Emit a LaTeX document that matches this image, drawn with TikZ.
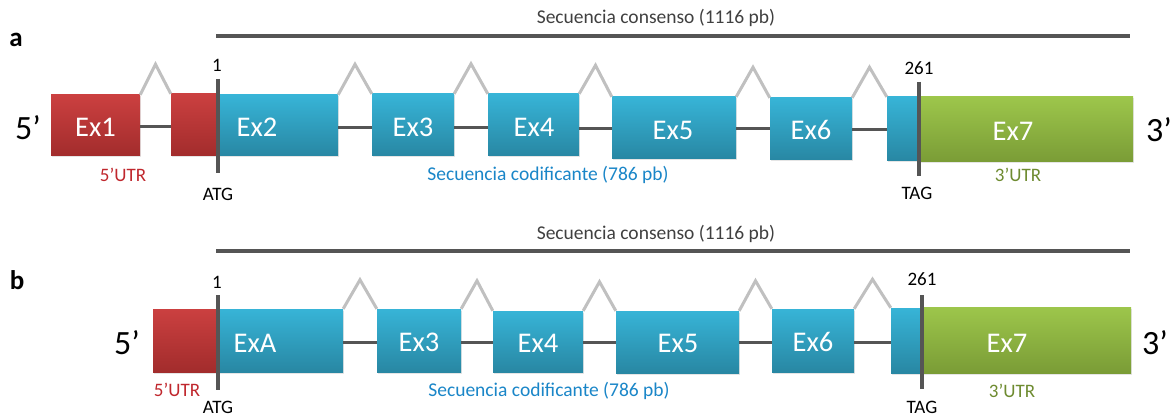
\documentclass[tikz,border=0pt]{standalone}
\usepackage{fontspec}
\setmainfont{Carlito}
\usetikzlibrary{calc,shadows}
\definecolor{redT}{HTML}{CB4040}
\definecolor{redB}{HTML}{A22C2C}
\definecolor{bluT}{HTML}{37B4D7}
\definecolor{bluB}{HTML}{2887A3}
\definecolor{grnT}{HTML}{9DC64B}
\definecolor{grnB}{HTML}{7A9C36}
\definecolor{utrred}{HTML}{C0272D}
\definecolor{codblue}{HTML}{1A86C8}
\definecolor{utrgreen}{HTML}{6E8B30}
\definecolor{darkline}{HTML}{555555}
\definecolor{lightline}{HTML}{C0C0C0}
\definecolor{txtgray}{HTML}{404040}
\tikzset{
  box/.style={inner sep=0pt, draw=none, drop shadow={shadow xshift=1pt, shadow yshift=-1.5pt, opacity=0.2}},
  redbox/.style={box, top color=redT, bottom color=redB},
  bluebox/.style={box, top color=bluT, bottom color=bluB},
  greenbox/.style={box, top color=grnT, bottom color=grnB},
  extext/.style={text=white, font=\fontsize{28.5}{32}\selectfont, inner sep=0pt},
  intron/.style={darkline, line width=3pt},
  splice/.style={lightline, line width=3pt},
  marker/.style={darkline, line width=4pt},
  consensus/.style={darkline, line width=4pt},
  smalltxt/.style={font=\fontsize{19}{22}\selectfont, inner sep=0pt},
  midtxt/.style={font=\fontsize{19.5}{23}\selectfont, inner sep=0pt},
  endtxt/.style={font=\fontsize{34}{38}\selectfont, inner sep=0pt},
  paneltxt/.style={font=\bfseries\fontsize{27}{30}\selectfont, inner sep=0pt},
}
\begin{document}
\begin{tikzpicture}[x=1pt,y=-1pt]
\useasboundingbox[fill=white] (0,0) rectangle (1171,417);

% ================= panel a =================
\node[paneltxt] (pa) at (16,40) {a};
\coordinate (ca1) at (216,36);
\coordinate (ca2) at (1130,36);
\draw[consensus] (ca1) -- (ca2);
\node[midtxt, text=txtgray] (tca) at (656,18) {Secuencia consenso (1116 pb)};

\node[redbox, minimum width=89pt, minimum height=61pt] (a1) at (95.5,125.5) {};
\node[redbox, minimum width=46pt, minimum height=62pt] (a2r) at (194,125) {};
\node[bluebox, minimum width=121pt, minimum height=61pt] (a2) at (277.5,125.5) {};
\node[bluebox, minimum width=82pt, minimum height=62pt] (a3) at (413,125) {};
\node[bluebox, minimum width=91pt, minimum height=62pt] (a4) at (533.5,125) {};
\node[bluebox, minimum width=124pt, minimum height=62pt] (a5) at (674,128) {};
\node[bluebox, minimum width=82pt, minimum height=62pt] (a6) at (811,129) {};
\node[bluebox, minimum width=33pt, minimum height=64pt] (a7b) at (903.5,129) {};
\node[greenbox, minimum width=213pt, minimum height=65pt] (a7) at (1026.5,129.5) {};

\node[extext] (ta1) at (95.5,127) {Ex1};
\node[extext] (ta2) at (257,127) {Ex2};
\node[extext] (ta3) at (413,127) {Ex3};
\node[extext] (ta4) at (534,127) {Ex4};
\node[extext] (ta5) at (673,130) {Ex5};
\node[extext] (ta6) at (811,130) {Ex6};
\node[extext] (ta7) at (1013,131) {Ex7};

\draw[intron] ($(a1.east)+(0,1.5)$) -- ($(a1.east -| a2r.west)+(0,1.5)$);
\draw[intron] ($(a2.east)+(0,2)$) -- ($(a2.east -| a3.west)+(0,2)$);
\draw[intron] ($(a3.east)+(0,3)$) -- ($(a3.east -| a4.west)+(0,3)$);
\draw[intron] ($(a4.east)+(0,4)$) -- ($(a4.east -| a5.west)+(0,4)$);
\draw[intron] ($(a5.east)+(0,1)$) -- ($(a5.east -| a6.west)+(0,1)$);
\draw[intron] ($(a6.east)+(0,1)$) -- ($(a6.east -| a7b.west)+(0,1)$);

\foreach \l/\r in {a1/a2r, a2/a3, a3/a4, a4/a5, a5/a6, a6/a7b}{
  \draw[splice, line join=miter] (\l.north east) -- ($(\l.north east)!0.5!(\r.north west)+(0,-30)$) -- (\r.north west);
}

\coordinate (atga1) at (218,79);
\coordinate (atga2) at (218,173);
\draw[marker] (atga1) -- (atga2);
\coordinate (taga1) at (919,82);
\coordinate (taga2) at (919,176);
\draw[marker] (taga1) -- (taga2);

\node[smalltxt] (na1) at (217,65) {1};
\node[smalltxt] (natg) at (218,194) {ATG};
\node[smalltxt] (na261) at (919,68) {261};
\node[smalltxt] (natag) at (917,193) {TAG};
\node[smalltxt, text=utrred] (nau5) at (123,175) {5’UTR};
\node[smalltxt, text=utrgreen] (nau3) at (1018,175) {3’UTR};
\node[midtxt, text=codblue] (nacod) at (548,175) {Secuencia codificante (786 pb)};
\node[endtxt] (na5) at (28,128) {5’};
\node[endtxt] (na3) at (1159,130) {3’};

% ================= panel b =================
\node[paneltxt] (pb) at (17,280) {b};
\coordinate (cb1) at (216,251);
\coordinate (cb2) at (1130,251);
\draw[consensus] (cb1) -- (cb2);
\node[midtxt, text=txtgray] (tcb) at (656,234) {Secuencia consenso (1116 pb)};

\node[redbox, minimum width=63pt, minimum height=63pt] (b1r) at (184.5,340.5) {};
\node[bluebox, minimum width=125pt, minimum height=63pt] (bA) at (280.5,340.5) {};
\node[bluebox, minimum width=84pt, minimum height=63pt] (b3) at (419,340.5) {};
\node[bluebox, minimum width=90pt, minimum height=61pt] (b4) at (538,341.5) {};
\node[bluebox, minimum width=123pt, minimum height=62pt] (b5) at (677.5,342) {};
\node[bluebox, minimum width=82pt, minimum height=63pt] (b6) at (813,340.5) {};
\node[bluebox, minimum width=32pt, minimum height=65pt] (b7b) at (907,340.5) {};
\node[greenbox, minimum width=208pt, minimum height=66pt] (b7) at (1027,340) {};

\node[extext] (tbA) at (255,343) {ExA};
\node[extext] (tb3) at (419,342) {Ex3};
\node[extext] (tb4) at (538,343) {Ex4};
\node[extext] (tb5) at (678,343) {Ex5};
\node[extext] (tb6) at (813,342) {Ex6};
\node[extext] (tb7) at (1007,343) {Ex7};

\draw[intron] ($(bA.east)+(0,1.5)$) -- ($(bA.east -| b3.west)+(0,1.5)$);
\draw[intron] ($(b3.east)+(0,1.5)$) -- ($(b3.east -| b4.west)+(0,1.5)$);
\draw[intron] ($(b4.east)+(0,0.5)$) -- ($(b4.east -| b5.west)+(0,0.5)$);
\draw[intron] ($(b5.east)+(0,0)$) -- ($(b5.east -| b6.west)+(0,0)$);
\draw[intron] ($(b6.east)+(0,1.5)$) -- ($(b6.east -| b7b.west)+(0,1.5)$);

\foreach \l/\r in {bA/b3, b3/b4, b4/b5, b5/b6, b6/b7b}{
  \draw[splice, line join=miter] (\l.north east) -- ($(\l.north east)!0.5!(\r.north west)+(0,-29)$) -- (\r.north west);
}

\coordinate (atgb1) at (218,295);
\coordinate (atgb2) at (218,390);
\draw[marker] (atgb1) -- (atgb2);
\coordinate (tagb1) at (922,295);
\coordinate (tagb2) at (922,389);
\draw[marker] (tagb1) -- (tagb2);

\node[smalltxt] (nb1) at (217,282) {1};
\node[smalltxt] (nbtg) at (218,407.5) {ATG};
\node[smalltxt] (nb261) at (922,279) {261};
\node[smalltxt] (nbtag) at (922,407.5) {TAG};
\node[smalltxt, text=utrred] (nbu5) at (177,390) {5’UTR};
\node[smalltxt, text=utrgreen] (nbu3) at (1012,391) {3’UTR};
\node[midtxt, text=codblue] (nbcod) at (549,391) {Secuencia codificante (786 pb)};
\node[endtxt] (nb5) at (127,343) {5’};
\node[endtxt] (nb3) at (1155,343) {3’};
\end{tikzpicture}
\end{document}
